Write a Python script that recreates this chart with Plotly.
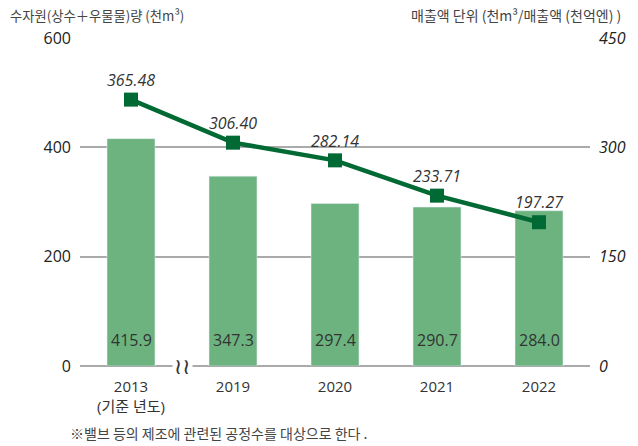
import plotly.graph_objects as go

years = ["2013", "2019", "2020", "2021", "2022"]
tick_labels = ["2013<br>(기준 년도)", "2019", "2020", "2021", "2022"]
water = [415.9, 347.3, 297.4, 290.7, 284.0]
intensity = [365.48, 306.40, 282.14, 233.71, 197.27]
left_ticks = [0, 200, 400, 600]
right_ticks = [0, 150, 300, 450]

BAR = "#6db37f"
LINE = "#006934"
TXT = "#333333"
FONT = "Noto Sans CJK KR, Noto Sans, sans-serif"

xs = list(range(len(years)))

fig = go.Figure()
fig.add_trace(go.Bar(x=xs, y=water, marker_color=BAR, width=0.47, yaxis="y",
                     hoverinfo="skip"))
fig.add_trace(go.Scatter(x=xs, y=intensity, yaxis="y2", mode="lines+markers+text",
                         line=dict(color=LINE, width=4.5),
                         marker=dict(symbol="square", size=14, color=LINE),
                         text=[f"{v:.2f}" for v in intensity], textposition="top center",
                         textfont=dict(size=16, color=TXT, style="italic", family="Open Sans"),
                         cliponaxis=False))

ann = []
for x, v in zip(xs, water):
    ann.append(dict(x=x, y=48, xref="x", yref="y", text=f"{v:.1f}", showarrow=False,
                    font=dict(size=16, color=TXT, family="Open Sans")))
ann.append(dict(x=-0.141, y=1.0, xref="paper", yref="paper", xanchor="left", yanchor="middle",
                yshift=23, text="수자원(상수＋우물물)량 (천m³)", showarrow=False,
                font=dict(size=13.3, color="#444", family=FONT)))
ann.append(dict(x=1.065, y=1.0, xref="paper", yref="paper", xanchor="right", yanchor="middle",
                yshift=23, text="매출액 단위 (천m³/매출액 (천억엔) )", showarrow=False,
                font=dict(size=14, color="#444", family=FONT)))
ann.append(dict(x=-0.024, y=0, xref="paper", yref="paper", xanchor="left", yanchor="middle",
                yshift=-67, text="※밸브 등의 제조에 관련된 공정수를 대상으로 한다 .",
                showarrow=False, font=dict(size=14, color="#444", family=FONT)))
# axis break symbol
ann.append(dict(x=0.5, y=0, xref="x", yref="y", text="≀≀", showarrow=False,
                bgcolor="white", borderpad=1,
                font=dict(size=22, color="#333", family="DejaVu Sans")))

fig.update_layout(
    width=638, height=446,
    margin=dict(l=80, r=48, t=38, b=80, autoexpand=False),
    paper_bgcolor="white", plot_bgcolor="white",
    showlegend=False,
    font=dict(family=FONT, color=TXT),
    xaxis=dict(range=[-0.5, 4.5], tickvals=xs, ticktext=tick_labels,
               tickfont=dict(size=15, color=TXT, family="Open Sans, Noto Sans CJK KR"),
               showgrid=False, showline=False, zeroline=False, ticks="",
               ticklabelstandoff=10),
    yaxis=dict(range=[0, 600], tickvals=left_ticks, showgrid=True, gridcolor="#aaaaaa",
               gridwidth=2, zeroline=True, zerolinecolor="#aaaaaa", zerolinewidth=2,
               tickfont=dict(size=16, color="#222", family="Open Sans"), ticklabelstandoff=8),
    yaxis2=dict(range=[0, 450], tickvals=right_ticks, overlaying="y", side="right",
                showgrid=False, zeroline=False,
                tickfont=dict(size=16, color="#222", family="Open Sans", style="italic"),
                ticklabelstandoff=8),
    annotations=ann,
)

fig.write_html("out.html", config={"displayModeBar": False},
               post_script="document.body.style.margin='0';document.body.style.overflow='hidden';")
